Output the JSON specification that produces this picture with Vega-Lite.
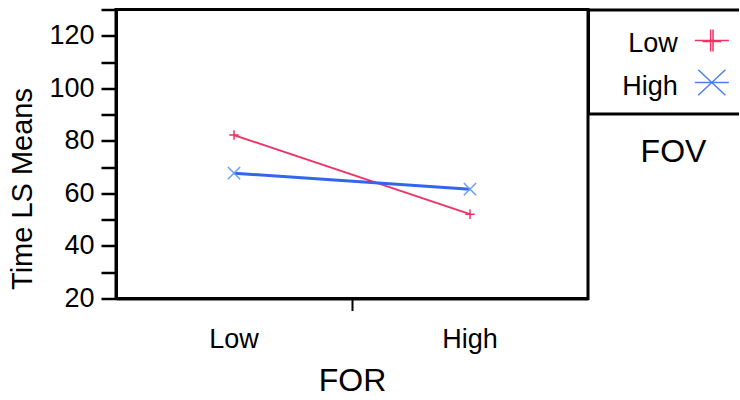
{
  "$schema": "https://vega.github.io/schema/vega-lite/v6.json",
  "background": "white",
  "padding": {"left": 7, "top": 6.5, "right": 0, "bottom": 0},
  "spacing": 0,
  "bounds": "flush",
  "config": {
    "font": "Liberation Sans",
    "axis": {"labelColor": "black", "titleColor": "black", "labelFont": "Liberation Sans", "titleFont": "Liberation Sans", "titleFontWeight": "normal", "grid": false},
    "title": {"font": "Liberation Sans", "fontWeight": "normal", "color": "black"}
  },
  "datasets": {
    "means": [
      {"FOR": "Low", "FOV": "Low", "time": 82.2},
      {"FOR": "High", "FOV": "Low", "time": 52.1},
      {"FOR": "Low", "FOV": "High", "time": 67.7},
      {"FOR": "High", "FOV": "High", "time": 61.6}
    ],
    "fov": [
      {"FOV": "Low"},
      {"FOV": "High"}
    ]
  },
  "resolve": {"scale": {"shape": "independent", "stroke": "independent", "color": "independent", "size": "independent", "x": "independent", "y": "independent"}},
  "hconcat": [
    {
      "width": 472,
      "height": 289,
      "data": {"name": "means"},
      "view": {"stroke": "black", "strokeWidth": 3},
      "encoding": {
        "y": {
          "field": "time",
          "type": "quantitative",
          "scale": {"domain": [20, 130], "nice": false, "zero": false},
          "axis": {
            "values": [20, 30, 40, 50, 60, 70, 80, 90, 100, 110, 120, 130],
            "labelExpr": "datum.value % 20 == 0 && datum.value <= 120 ? datum.label : ''",
            "labelFontSize": {"condition": {"test": "datum.value % 20 != 0 || datum.value > 120", "value": 0}, "value": 27},
            "labelOverlap": false,
            "labelPadding": 7,
            "tickSize": 15,
            "tickWidth": 2.5,
            "tickColor": "black",
            "domainColor": "black",
            "domainWidth": 3,
            "title": "Time LS Means",
            "titleFontSize": 29,
            "titlePadding": 11,
            "titleY": 179
          }
        }
      },
      "layer": [
        {
          "mark": {"type": "line"},
          "encoding": {
            "x": {
              "field": "FOR",
              "type": "nominal",
              "scale": {"type": "band", "domain": ["Low", "High"], "paddingInner": 0, "paddingOuter": 0},
              "axis": {
                "orient": "bottom",
                "ticks": false,
                "tickSize": 0,
                "labelAngle": 0,
                "labelFontSize": 27,
                "labelPadding": 28,
                "domainColor": "black",
                "domainWidth": 3,
                "title": "FOR",
                "titleFontSize": 32,
                "titlePadding": 13
              }
            },
            "color": {"field": "FOV", "type": "nominal", "scale": {"domain": ["Low", "High"], "range": ["#ee3366", "#3366ee"]}, "legend": null},
            "strokeWidth": {"field": "FOV", "type": "nominal", "scale": {"domain": ["Low", "High"], "range": [2, 3]}, "legend": null}
          }
        },
        {
          "mark": {"type": "point", "filled": false, "strokeWidth": 1.5, "opacity": 1},
          "encoding": {
            "x": {
              "field": "FOR",
              "type": "nominal",
              "axis": {
                "orient": "bottom",
                "values": ["High"],
                "bandPosition": 0,
                "labels": false,
                "domain": false,
                "ticks": true,
                "tickSize": 12,
                "tickWidth": 2,
                "tickColor": "black",
                "title": null
              }
            },
            "shape": {"field": "FOV", "type": "nominal", "scale": {"domain": ["Low", "High"], "range": ["M-1,0H1M0,-1V1", "M-1,-1L1,1M-1,1L1,-1"]}, "legend": null},
            "stroke": {"field": "FOV", "type": "nominal", "scale": {"domain": ["Low", "High"], "range": ["#ee3366", "#6a9ff5"]}, "legend": null},
            "size": {"field": "FOV", "type": "nominal", "scale": {"domain": ["Low", "High"], "range": [90, 150]}, "legend": null}
          }
        }
      ],
      "resolve": {"axis": {"x": "independent"}}
    },
    {
      "width": 151,
      "height": 104,
      "data": {"name": "fov"},
      "view": {"stroke": "white", "strokeWidth": 0, "strokeOpacity": 0},
      "title": {"text": "FOV", "orient": "bottom", "fontSize": 32, "offset": 23, "dx": 10, "anchor": "middle", "fontWeight": "normal", "color": "black"},
      "encoding": {
        "y": {
          "field": "FOV",
          "type": "nominal",
          "scale": {"domain": ["Low", "High"], "padding": 0.738},
          "axis": {"labels": false, "ticks": false, "title": null, "domainColor": "black", "domainWidth": 3}
        }
      },
      "layer": [
        {
          "mark": {"type": "text", "align": "right", "baseline": "middle", "fontSize": 27, "font": "Liberation Sans", "dy": 4, "color": "black"},
          "encoding": {
            "x": {
              "datum": "entry",
              "type": "nominal",
              "bandPosition": 0.595,
              "scale": {"type": "band", "paddingInner": 0, "paddingOuter": 0},
              "axis": {"orient": "top", "labels": false, "ticks": false, "title": null, "domainColor": "black", "domainWidth": 3}
            },
            "text": {"field": "FOV"}
          }
        },
        {
          "mark": {"type": "point", "filled": false, "strokeWidth": 1.5, "opacity": 1, "size": 1156},
          "encoding": {
            "x": {
              "datum": "entry",
              "type": "nominal",
              "bandPosition": 0.82,
              "axis": {"orient": "bottom", "labels": false, "ticks": false, "title": null, "domainColor": "black", "domainWidth": 3}
            },
            "shape": {"field": "FOV", "type": "nominal", "scale": {"domain": ["Low", "High"], "range": ["M-1,0H1M-0.55,0.06H0.55M-0.07,-0.65V0.65M0.07,-0.65V0.65", "M-1,0H1M-0.8,-0.75L0.8,0.75M-0.8,0.75L0.8,-0.75"]}, "legend": null},
            "stroke": {"field": "FOV", "type": "nominal", "scale": {"domain": ["Low", "High"], "range": ["#ee3366", "#4a80f0"]}, "legend": null}
          }
        }
      ],
      "resolve": {"axis": {"x": "independent"}}
    }
  ]
}
